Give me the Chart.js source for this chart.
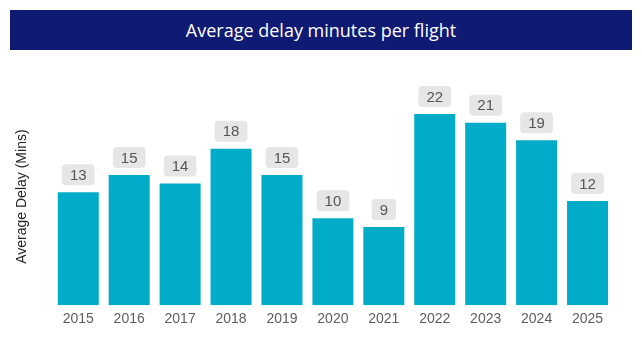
<!DOCTYPE html>
<html>
<head>
<meta charset="utf-8">
<script src="https://cdn.jsdelivr.net/npm/chart.js"></script>
<style>
  html, body { margin: 0; padding: 0; background: #fff; }
  #wrap { position: relative; width: 642px; height: 358px; }
  #titleBar {
    position: absolute; left: 10px; top: 10px; width: 622px; height: 40px;
    background: #0F1A73; color: #fff;
    font-family: "Open Sans", sans-serif; font-size: 18px;
    display: flex; align-items: center; justify-content: center;
  }
  #chart { position: absolute; left: 0; top: 0; }
</style>
</head>
<body>
<div id="wrap">
  <canvas id="chart" width="642" height="358"></canvas>
  <div id="titleBar">Average delay minutes per flight</div>
</div>
<script>
// dados do gráfico
const years = ["2015", "2016", "2017", "2018", "2019", "2020", "2021", "2022", "2023", "2024", "2025"];
const delayMins = [13, 15, 14, 18, 15, 10, 9, 22, 21, 19, 12];

// rótulos em caixas cinzas acima das barras
const boxLabels = {
  id: "boxLabels",
  afterDatasetsDraw(chart) {
    const ctx = chart.ctx;
    const meta = chart.getDatasetMeta(0);
    ctx.save();
    ctx.font = "15px 'Liberation Sans', Arial, sans-serif";
    ctx.textAlign = "center";
    ctx.textBaseline = "middle";
    meta.data.forEach((bar, i) => {
      const txt = String(delayMins[i]);
      const w = ctx.measureText(txt).width + 16;
      const h = 21;
      const bottom = bar.y - 7;
      ctx.fillStyle = "#E6E6E6";
      ctx.beginPath();
      ctx.roundRect(bar.x - w / 2, bottom - h, w, h, 4);
      ctx.fill();
      ctx.fillStyle = "#555555";
      ctx.fillText(txt, bar.x, bottom - h / 2 + 1);
    });
    ctx.restore();
  }
};

new Chart(document.getElementById("chart"), {
  type: "bar",
  data: {
    labels: years,
    datasets: [{
      data: delayMins,
      backgroundColor: "#00ACC7",
      barPercentage: 0.805,
      categoryPercentage: 1
    }]
  },
  options: {
    responsive: false,
    animation: false,
    layout: { padding: { left: 10, right: 29, top: 88, bottom: 24 } },
    plugins: {
      legend: { display: false },
      tooltip: { enabled: false }
    },
    scales: {
      x: {
        grid: { display: false, drawTicks: false },
        border: { display: false },
        ticks: {
          color: "#605E5C",
          padding: 6,
          font: { family: "'Liberation Sans', Arial, sans-serif", size: 14 }
        }
      },
      y: {
        min: 0,
        max: 25,
        grid: { display: false, drawTicks: false },
        border: { display: false },
        ticks: { display: false },
        title: {
          display: true,
          text: "Average Delay (Mins)",
          color: "#252423",
          padding: { top: 4, bottom: 22 },
          font: { family: "'Liberation Sans', Arial, sans-serif", size: 14 }
        }
      }
    }
  },
  plugins: [boxLabels]
});
</script>
</body>
</html>
